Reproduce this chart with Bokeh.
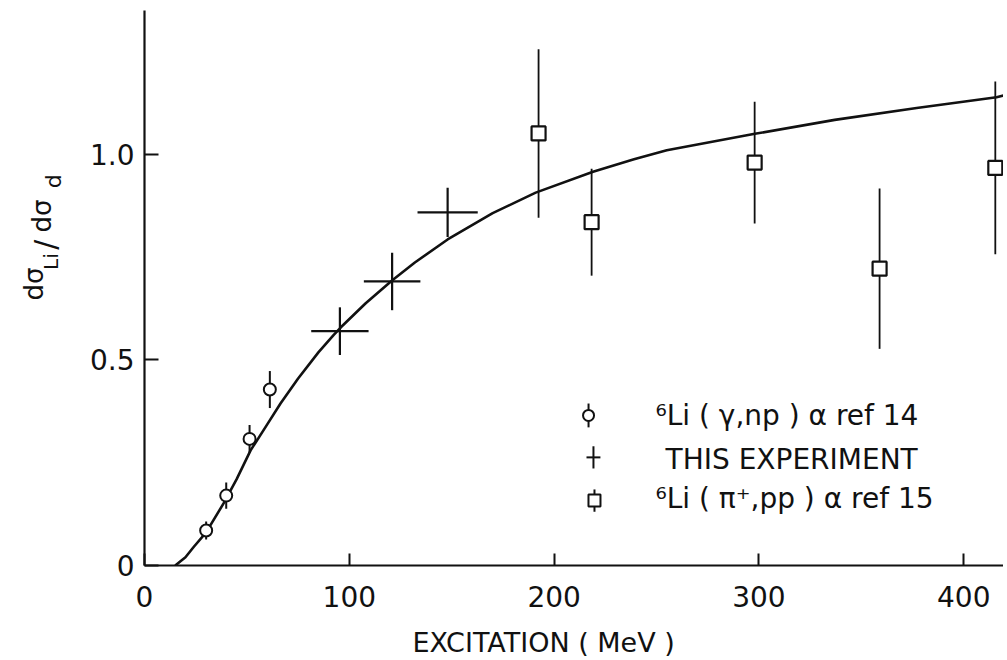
import math
import numpy as np
from bokeh.plotting import figure
from bokeh.layouts import row, column
from bokeh.models import Range1d, FixedTicker, Label
from bokeh.embed import file_html
from bokeh.resources import INLINE

# ---------------- data ----------------
# fitted curve
curve_x = [15, 20, 24, 30, 38.6, 45, 51.8, 60, 66.4, 75, 85, 92.4, 96, 108, 121, 132, 148,
           170, 191, 219, 239, 255, 298, 337, 377, 416, 421]
curve_y = [0.0, 0.02, 0.045, 0.08, 0.151, 0.21, 0.28, 0.344, 0.394, 0.455, 0.519, 0.561, 0.580,
           0.638, 0.694, 0.737, 0.793, 0.857, 0.907, 0.958, 0.988, 1.010, 1.050, 1.084, 1.113,
           1.139, 1.145]

# 6Li(gamma,np)alpha  ref 14  (circles)
gam_x = [30.1, 39.9, 51.3, 61.2]
gam_y = [0.085, 0.170, 0.308, 0.428]
gam_err = [0.022, 0.032, 0.034, 0.045]

# this experiment (crosses)
exp_x = [95.4, 120.9, 148.0]
exp_y = [0.570, 0.691, 0.859]
exp_xerr = [14.0, 13.8, 14.7]
exp_yerr = [0.058, 0.070, 0.060]

# 6Li(pi+,pp)alpha  ref 15  (squares)
pi_x = [192.4, 218.3, 297.9, 358.9, 415.4]
pi_y = [1.051, 0.835, 0.980, 0.722, 0.967]
pi_err = [0.205, 0.130, 0.148, 0.195, 0.210]

x_ticks = [0, 100, 200, 300, 400]
y_ticks = [0, 0.5, 1.0]
y_tick_labels = {0: "0", 0.5: "0.5", 1: "1.0"}

legend_labels = ["\u2076Li ( \u03b3,np ) \u03b1  ref 14",
                 "THIS EXPERIMENT",
                 "\u2076Li ( \u03c0\u207a,pp ) \u03b1  ref 15"]
x_title = "EXCITATION  ( MeV )"

FONT = "DejaVu Sans"
INK = "#111111"

# ---------------- layout sizes ----------------
LEFT_W = 70          # strip that carries the y title
MAIN_W = 933
MAIN_H = 621
BOTTOM_H = 37        # strip that carries the x title


def blank(w, h):
    f = figure(width=w, height=h, output_backend="svg", toolbar_location=None,
               x_range=Range1d(0, w), y_range=Range1d(0, h),
               x_axis_location=None, y_axis_location=None, min_border=0)
    f.outline_line_color = None
    f.xgrid.visible = False
    f.ygrid.visible = False
    return f


# ---------------- main figure ----------------
p = figure(width=MAIN_W, height=MAIN_H, output_backend="svg", toolbar_location=None,
           x_range=Range1d(0, 419.4), y_range=Range1d(0, 1.350),
           min_border_left=74, min_border_right=0, min_border_top=10, min_border_bottom=56)
p.outline_line_color = None
p.xgrid.visible = False
p.ygrid.visible = False

for ax, ticks in ((p.xaxis, x_ticks), (p.yaxis, y_ticks)):
    ax.ticker = FixedTicker(ticks=ticks)
    ax.minor_tick_line_color = None
    ax.major_tick_out = 0
    ax.axis_line_width = 2.2
    ax.axis_line_color = INK
    ax.major_tick_line_width = 2
    ax.major_tick_line_color = INK
    ax.major_label_text_font = FONT
    ax.major_label_text_font_size = "28px"
    ax.major_label_text_color = INK

p.xaxis.major_tick_in = 12
p.xaxis.major_label_standoff = 20
p.yaxis.major_tick_in = 14
p.yaxis.major_label_standoff = 10
p.yaxis.major_label_overrides = y_tick_labels

# curve
p.line(curve_x, curve_y, line_color=INK, line_width=2.6)

# error bars
gx, gy, ge = map(np.array, (gam_x, gam_y, gam_err))
p.segment(gx, gy - ge, gx, gy + ge, line_color=INK, line_width=2)

ex, ey, exe, eye = map(np.array, (exp_x, exp_y, exp_xerr, exp_yerr))
p.segment(ex - exe, ey, ex + exe, ey, line_color=INK, line_width=2.2)
p.segment(ex, ey - eye, ex, ey + eye, line_color=INK, line_width=2.2)

px_, py_, pe_ = map(np.array, (pi_x, pi_y, pi_err))
p.segment(px_, py_ - pe_, px_, py_ + pe_, line_color=INK, line_width=1.8)

# markers
p.scatter(gam_x, gam_y, marker="circle", size=12, fill_color="white",
          line_color=INK, line_width=2)
p.scatter(pi_x, pi_y, marker="square", size=14, fill_color="white",
          line_color=INK, line_width=2.2)

# ---------------- legend (drawn by hand, like the original) ----------------
sx = [216.8, 219.2, 219.7]
sy = [0.365, 0.263, 0.158]
p.segment([sx[0]], [sy[0] - 0.029], [sx[0]], [sy[0] + 0.029], line_color=INK, line_width=2)
p.scatter([sx[0]], [sy[0]], marker="circle", size=11, fill_color="white", line_color=INK, line_width=2)
p.segment([sx[1] - 3.4], [sy[1]], [sx[1] + 3.4], [sy[1]], line_color=INK, line_width=2)
p.segment([sx[1]], [sy[1] - 0.027], [sx[1]], [sy[1] + 0.027], line_color=INK, line_width=2)
p.segment([sx[2]], [sy[2] - 0.027], [sx[2]], [sy[2] + 0.027], line_color=INK, line_width=2)
p.scatter([sx[2]], [sy[2]], marker="square", size=12, fill_color="white", line_color=INK, line_width=2)

leg_x = [249.5, 254.4, 249.5]
leg_y = [0.365, 0.257, 0.163]
for lx, ly, txt in zip(leg_x, leg_y, legend_labels):
    p.add_layout(Label(x=lx, y=ly, text=txt, text_font=FONT, text_font_size="28px",
                       text_color=INK, text_baseline="middle", text_align="left"))

# ---------------- y title strip (rotated, with subscripts) ----------------
ylab = blank(LEFT_W, MAIN_H)
# (text, centre x px, centre y px from top, font size)
ylab_parts = [("d\u03c3", 33, 306, "26px"),
              ("Li", 50, 281, "20px"),
              ("/", 45, 262, "30px"),
              ("d\u03c3", 41, 230, "26px"),
              ("d", 53, 191, "22px")]
for txt, cx, cy, fs in ylab_parts:
    ylab.add_layout(Label(x=cx, y=MAIN_H - cy, text=txt, angle=math.pi / 2,
                          text_font=FONT, text_font_size=fs, text_color=INK,
                          text_baseline="middle", text_align="center"))

# ---------------- x title strip ----------------
xlab = blank(LEFT_W + MAIN_W, BOTTOM_H)
xlab.add_layout(Label(x=412, y=16, text=x_title, text_font=FONT, text_font_size="27px",
                      text_color=INK, text_baseline="middle", text_align="left"))

layout = column(row(ylab, p), xlab)
open("out.html", "w").write(file_html(layout, INLINE))
